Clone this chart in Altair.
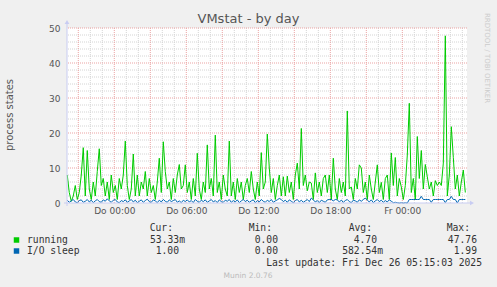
import altair as alt
import pandas as pd

# ---- data (10-minute samples) ----
running = [
    8, 3, 0.5, 2, 5, 1, 3, 8, 15.8, 2,
    15, 4, 1, 6, 2, 9, 15.5, 5, 7, 2,
    6, 1, 8, 3, 5, 1, 7, 4, 8, 17.7,
    5, 1, 4, 14, 2, 8, 2, 6, 4, 9,
    2, 7, 3, 5, 1, 6, 12.8, 3, 17.5, 9,
    4, 6, 1, 7, 3, 8, 11, 4, 5, 10.9,
    3, 6, 1, 7, 2, 14.2, 4, 1, 6, 3,
    16.6, 4, 7, 2, 19.4, 3, 6, 1, 8, 4,
    2, 17.7, 2, 6, 1, 7, 3, 6, 1, 5,
    7, 3, 9, 4, 1, 6, 2, 14.4, 4, 6,
    19.7, 10, 3, 7, 1, 5, 8, 2, 7.5, 2,
    7.7, 3, 6, 1, 8, 11.4, 4, 21.3, 5, 8,
    3.5, 6, 5.7, 1, 8.6, 3, 6, 2, 7, 8,
    3, 8, 1, 12.8, 4, 1, 7, 3, 6, 2,
    26.3, 4, 4.6, 1, 7, 4, 10.9, 10, 3, 6,
    1, 8, 4, 1, 6, 10.9, 3, 5.9, 1, 7,
    8, 1, 14.3, 5, 13, 2, 7, 4.6, 1, 5,
    13.7, 28.5, 3, 7, 1, 19, 7, 15, 4, 11,
    7.5, 4, 6, 2, 6.4, 5, 6, 5, 11.4, 47.76,
    2, 8, 21.8, 13, 4, 8, 2, 6, 9.4, 3,
]
io_sleep = [
    0.8, 0.2, 0.6, 1.0, 0.3, 0.1, 0.7, 0.9, 0.2, 0.5,
    1.0, 0.3, 0.8, 0.1, 0.6, 1.0, 0.4, 0.2, 0.9, 0.5,
    1.2, 0.6, 0.2, 0.8, 1.0, 0.3, 0.1, 0.7, 0.4, 0.9,
    0.2, 0.6, 1.0, 0.3, 0.8, 0.1, 0.5, 0.9, 0.2, 0.7,
    1.1, 0.4, 0.2, 0.9, 0.6, 0.1, 0.8, 0.3, 1.0, 0.5,
    0.2, 0.9, 0.4, 0.7, 1.0, 0.2, 0.6, 0.1, 0.8, 0.4,
    0.9, 0.3, 0.7, 0.1, 1.0, 0.5, 0.2, 0.8, 0.4, 0.9,
    0.2, 0.6, 1.0, 0.3, 0.7, 0.1, 0.9, 0.4, 0.2, 0.8,
    0.5, 1.0, 0.2, 0.7, 0.3, 0.9, 0.1, 0.6, 1.0, 0.4,
    0.8, 0.2, 0.6, 0.9, 0.1, 0.7, 0.3, 1.0, 0.5, 0.2,
    0.8, 0.4, 1.0, 0.2, 0.6, 0.9, 1.3, 1.0, 0.4, 0.8,
    0.2, 0.9, 0.5, 0.1, 0.7, 1.0, 0.3, 0.8, 0.2, 0.6,
    1.0, 0.4, 1.4, 0.9, 0.3, 0.7, 0.1, 0.8, 0.5, 0.2,
    0.9, 1.0, 1.0, 0.6, 1.0, 0.9, 0.3, 0.8, 0.2, 0.7,
    1.0, 0.4, 0.1, 0.8, 0.6, 0.2, 0.9, 0.5, 1.0, 1.4,
    0.8, 0.3, 0.9, 0.1, 0.6, 1.0, 0.4, 0.8, 0.2, 0.7,
    0.3, 0.9, 0.5, 0.1, 0.2, 0.1, 0.0, 0.1, 0.0, 0.1,
    0.0, 1.0, 1.0, 1.0, 1.0, 1.0, 1.0, 1.9, 1.0, 1.0,
    1.0, 1.0, 0.2, 1.0, 1.0, 1.0, 1.0, 1.0, 1.0, 0.1,
    1.0, 1.0, 1.9, 1.0, 1.0, 0.0, 1.0, 1.0, 1.0, 1.0,
]
# hours relative to "Do 00:00"
START_HOUR = -3.917
STEP_HOURS = 1 / 6
hours = [START_HOUR + i * STEP_HOURS for i in range(len(running))]

tick_hours = [0, 6, 12, 18, 24]
tick_labels = ["Do 00:00", "Do 06:00", "Do 12:00", "Do 18:00", "Fr 00:00"]
y_ticks = [0, 10, 20, 30, 40, 50]

legend_rows = ["running", "I/O sleep"]
legend_colors = ["#00CC00", "#0066B3"]
cur_vals = ["53.33m", "1.00"]
min_vals = ["0.00", "0.00"]
avg_vals = ["4.70", "582.54m"]
max_vals = ["47.76", "1.99"]

# ---- layout ----
W, H = 400, 175
X_DOMAIN = [-3.94, 29.39]

label_expr = ""
for hv, lab in zip(tick_hours, tick_labels):
    label_expr += f"datum.value == {hv} ? '{lab}' : "
label_expr += "''"

xaxis = alt.Axis(values=tick_hours, labelExpr=label_expr, domain=False, ticks=False,
                 grid=False, labelFont="DejaVu Sans", labelFontSize=9, labelColor="#555555",
                 labelPadding=3, title=None, labelFlush=False, labelOverlap=False)
yaxis = alt.Axis(values=y_ticks, domain=False, ticks=False, grid=False,
                 labelFont="DejaVu Sans", labelFontSize=9, labelColor="#555555",
                 labelPadding=7, title=None, labelFlush=False, labelOverlap=False)
xs = alt.Scale(domain=X_DOMAIN, nice=False, zero=False)
ys = alt.Scale(domain=[0, 50], nice=False, zero=False)
X = alt.X("h:Q", scale=xs, axis=xaxis)
Y = alt.Y("v:Q", scale=ys, axis=yaxis)

minor_v = pd.DataFrame({"h": [h for h in range(-3, 30) if h % 3 != 0]})
major_v = pd.DataFrame({"h": [h for h in range(-3, 30) if h % 3 == 0]})
minor_h = pd.DataFrame({"v": [v for v in range(2, 50, 2) if v % 10 != 0]})
major_h = pd.DataFrame({"v": [10, 20, 30, 40, 50]})

grid_minor_v = alt.Chart(minor_v).mark_rule(color="#D4D4D4", strokeWidth=1, strokeDash=[1, 1]).encode(x=X)
grid_minor_h = alt.Chart(minor_h).mark_rule(color="#D4D4D4", strokeWidth=1, strokeDash=[1, 1]).encode(y=Y)
grid_major_v = alt.Chart(major_v).mark_rule(color="#EBA3A3", strokeWidth=1, strokeDash=[1, 1]).encode(x=X)
grid_major_h = alt.Chart(major_h).mark_rule(color="#EBA3A3", strokeWidth=1, strokeDash=[1, 1]).encode(y=Y)

run_df = pd.DataFrame({"h": hours, "v": running})
io_df = pd.DataFrame({"h": hours, "v": io_sleep})
line_run = alt.Chart(run_df).mark_line(color=legend_colors[0], strokeWidth=1).encode(x=X, y=Y)
line_io = alt.Chart(io_df).mark_line(color=legend_colors[1], strokeWidth=1).encode(x=X, y=Y)

one = pd.DataFrame({"k": [0]})
AXIS_COL = "#C8CCF2"
x_axis_line = alt.Chart(one).mark_rule(color=AXIS_COL, strokeWidth=1).encode(
    x=alt.value(-3), x2=alt.value(404), y=alt.value(H))
y_axis_line = alt.Chart(one).mark_rule(color=AXIS_COL, strokeWidth=1).encode(
    x=alt.value(0), y=alt.value(H + 3), y2=alt.value(-5))
x_arrow = alt.Chart(one).mark_point(shape="triangle-right", filled=True, color=AXIS_COL,
                                    size=22, opacity=1).encode(x=alt.value(405), y=alt.value(H))
y_arrow = alt.Chart(one).mark_point(shape="triangle-up", filled=True, color=AXIS_COL,
                                    size=22, opacity=1).encode(x=alt.value(0), y=alt.value(-6))

def txt(text, x, y, size=9.7, color="#333333", font="DejaVu Sans Mono", align="left", angle=0):
    kw = dict(text=text, font=font, fontSize=size, color=color, align=align, baseline="middle")
    if angle:
        kw["angle"] = angle
    return alt.Chart(one).mark_text(**kw).encode(x=alt.value(x), y=alt.value(y))

title = txt("VMstat - by day", 181.5, -9, size=13, color="#555555", font="DejaVu Sans", align="center")
ytitle = txt("process states", -57, 87, size=10, color="#555555", font="DejaVu Sans", align="center", angle=270)
rrd = txt("RRDTOOL / TOBI OETIKER", 420, 30, size=7, color="#CCCCCC", font="DejaVu Sans", align="center", angle=90)

texts = [title, ytitle, rrd]
hdr_y = 200
for lab, xr in zip(["Cur:", "Min:", "Avg:", "Max:"], [106, 205, 305, 403]):
    texts.append(txt(lab, xr, hdr_y, align="right"))
row_y = [212, 223]
for r in range(2):
    sq = alt.Chart(one).mark_square(color=legend_colors[r], size=30, opacity=1).encode(
        x=alt.value(-50.5), y=alt.value(row_y[r]))
    texts.append(sq)
    texts.append(txt(legend_rows[r], -40, row_y[r]))
    for vals, xr in zip([cur_vals, min_vals, avg_vals, max_vals], [[118, 112], 211, [310, 316], 410]):
        xx = xr[r] if isinstance(xr, list) else xr
        texts.append(txt(vals[r], xx, row_y[r], align="right"))
texts.append(txt("Last update: Fri Dec 26 05:15:03 2025", 415, 235, align="right"))
texts.append(txt("Munin 2.0.76", 181, 248, size=7.5, color="#BBBBBB", font="DejaVu Sans", align="center"))

chart = alt.layer(
    grid_minor_v, grid_minor_h, grid_major_v, grid_major_h,
    line_run, line_io,
    x_axis_line, y_axis_line, x_arrow, y_arrow,
    *texts,
).properties(
    width=W, height=H,
    autosize=alt.AutoSizeParams(type="none"),
    padding={"left": 67, "top": 28, "right": 30, "bottom": 84},
    background="#F0F0F0",
).configure_view(fill="white", stroke=None)

chart.save("out.html", embed_options={"renderer": "svg", "actions": False})
